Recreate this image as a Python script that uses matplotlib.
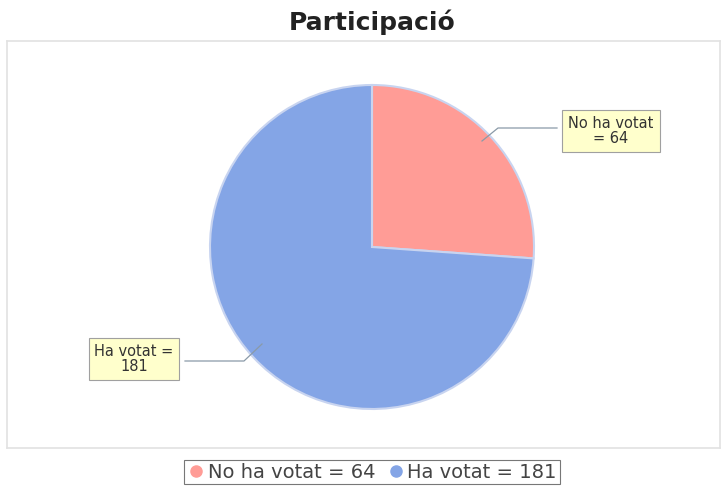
import matplotlib
matplotlib.use('Agg')
import matplotlib.pyplot as plt
from matplotlib.lines import Line2D

labels = ['No ha votat', 'Ha votat']
values = [64, 181]
colors = ['#FF9C96', '#84A5E6']

W, H = 726, 490
cx, cy, r = 372, 247, 162


def px(x, y):
    # pixel position -> data coords of the pie axes
    return (x - cx) / r, (cy - y) / r


fig = plt.figure(figsize=(W / 100, H / 100), dpi=100)
fig.patch.set_facecolor('white')

# plot area box
bx0, by0, bx1, by1 = 7, 41, 720, 448
ax = fig.add_axes([bx0 / W, (H - by1) / H, (bx1 - bx0) / W, (by1 - by0) / H])

ax.pie(values, colors=colors, startangle=90, counterclock=False, radius=1.0,
       wedgeprops=dict(edgecolor='#c8d4f0', linewidth=1.5))

ax.set_frame_on(True)
ax.set_xlim((bx0 - cx) / r, (bx1 - cx) / r)
ax.set_ylim((cy - by1) / r, (cy - by0) / r)
ax.set_aspect('equal', adjustable='box')
ax.set_xticks([])
ax.set_yticks([])
for s in ax.spines.values():
    s.set_visible(True)
    s.set_color('#e2e2e2')
    s.set_linewidth(1.2)

# labels with leader lines
bbox = dict(boxstyle='square,pad=0.4', facecolor='#FFFFCC', edgecolor='#a0a0a0', linewidth=0.8)
lc = '#8a9aa8'
p1, p2, p3 = px(482, 141), px(498, 128), px(557, 128)
ax.plot([p1[0], p2[0], p3[0]], [p1[1], p2[1], p3[1]], color=lc, lw=0.9)
ax.text(*px(611, 131), '%s\n= %d' % (labels[0], values[0]), ha='center', va='center',
        fontsize=10.5, color='#333333', bbox=bbox, linespacing=1.0)

q1, q2, q3 = px(262, 344), px(244, 361), px(185, 361)
ax.plot([q1[0], q2[0], q3[0]], [q1[1], q2[1], q3[1]], color=lc, lw=0.9)
ax.text(*px(134, 359), '%s =\n%d' % (labels[1], values[1]), ha='center', va='center',
        fontsize=10.5, color='#333333', bbox=bbox, linespacing=1.0)

fig.text(cx / W, 1 - 22 / H, 'Participació', ha='center', va='center',
         fontsize=18, fontweight='bold', color='#222222')

handles = [Line2D([], [], marker='o', linestyle='', markersize=8,
                  markerfacecolor=c, markeredgecolor=c) for c in colors]
leg = fig.legend(handles, ['%s = %d' % (l, v) for l, v in zip(labels, values)],
                 loc='center', bbox_to_anchor=(cx / W, 1 - 472 / H), ncol=2,
                 frameon=True, fancybox=False, fontsize=14, handletextpad=0.15,
                 columnspacing=0.6, handlelength=0.9, borderpad=0.15)
leg.get_frame().set_edgecolor('#555555')
leg.get_frame().set_linewidth(0.8)
for t in leg.get_texts():
    t.set_color('#444444')

fig.savefig('out.png', dpi=100)
